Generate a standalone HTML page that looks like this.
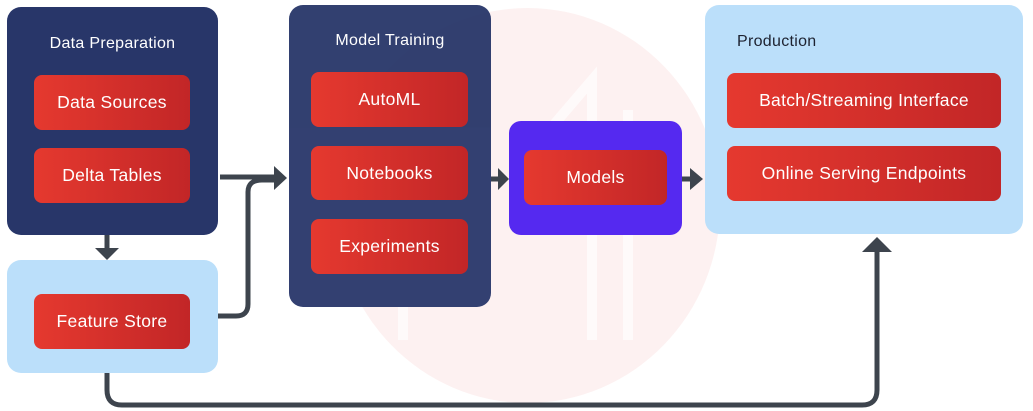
<!DOCTYPE html>
<html><head><meta charset="utf-8"><style>
*{margin:0;padding:0;box-sizing:border-box}
body{width:1033px;height:411px;background:#fff;position:relative;overflow:hidden;font-family:"Liberation Sans",sans-serif}
.abs{position:absolute}
.dark{background:#283669;border-radius:14px}
.light{background:#bbdffa;border-radius:14px}
.title{position:absolute;font-size:16px;color:#fff;width:100%;text-align:center;letter-spacing:.3px}
.btn{position:absolute;border-radius:8px;background:linear-gradient(90deg,#e5392f,#c22627);color:#fff;font-size:17.5px;letter-spacing:.3px;display:flex;align-items:center;justify-content:center}
</style></head><body>
<div class="abs" style="left:335px;top:8px;width:385px;height:395px;border-radius:50%;background:#fdf1f1"></div>
<svg class="abs" style="left:0;top:0" width="1033" height="411">
<g stroke="#fff" stroke-width="10" fill="none" opacity="0.7">
<path d="M403 340 V120 L450 180"/><path d="M592 340 V80 L515 170"/><path d="M628 340 V110"/>
</g>
</svg>
<div class="abs dark" style="left:7px;top:7px;width:211px;height:228px"><div class="title" style="top:28px">Data Preparation</div></div>
<div class="btn" style="left:34px;top:75px;width:156px;height:55px">Data Sources</div>
<div class="btn" style="left:34px;top:148px;width:156px;height:55px">Delta Tables</div>
<div class="abs light" style="left:7px;top:260px;width:211px;height:113px"></div>
<div class="btn" style="left:34px;top:294px;width:156px;height:55px">Feature Store</div>
<div class="abs dark" style="left:289px;top:5px;width:202px;height:302px;opacity:.95"><div class="title" style="top:27px">Model Training</div></div>
<div class="btn" style="left:311px;top:72px;width:157px;height:55px">AutoML</div>
<div class="btn" style="left:311px;top:146px;width:157px;height:54px">Notebooks</div>
<div class="btn" style="left:311px;top:219px;width:157px;height:55px">Experiments</div>
<div class="abs" style="left:509px;top:121px;width:173px;height:114px;border-radius:12px;background:#5529f0"></div>
<div class="btn" style="left:524px;top:150px;width:143px;height:55px">Models</div>
<div class="abs light" style="left:705px;top:5px;width:318px;height:229px"><div style="position:absolute;left:32px;top:28px;font-size:16px;color:#1d2230;letter-spacing:.3px">Production</div></div>
<div class="btn" style="left:727px;top:73px;width:274px;height:55px">Batch/Streaming Interface</div>
<div class="btn" style="left:727px;top:146px;width:274px;height:55px">Online Serving Endpoints</div>
<svg class="abs" style="left:0;top:0" width="1033" height="411">
<g stroke="#3d444d" stroke-width="5" fill="none">
<path d="M107 235 V250"/>
<path d="M220 177 H276"/>
<path d="M218 316 H236 Q248 316 248 304 V192 Q248 180 262 180 H276"/>
<path d="M107 373 V390 Q107 405 122 405 H862 Q877 405 877 390 V250"/>
<path d="M491 179 H500"/><path d="M682 179 H692"/>
</g>
<g fill="#3d444d">
<path d="M95 248 H119 L107 260 Z"/>
<path d="M274 166 L287 178 L274 190 Z"/>
<path d="M498 168 L509 179 L498 190 Z"/>
<path d="M690 168 L703 179 L690 190 Z"/>
<path d="M862 252 L877 237 L892 252 Z"/>
</g>
</svg>
</body></html>
